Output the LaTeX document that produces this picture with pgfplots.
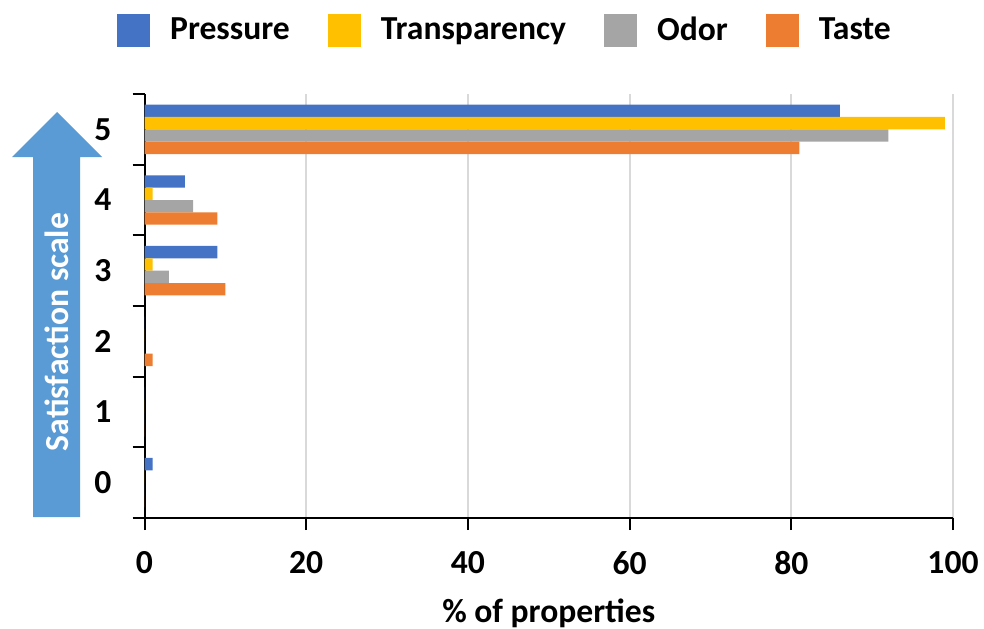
\documentclass[border=0pt]{standalone}
\usepackage{fontspec}
\setmainfont{Carlito}
\usepackage{pgfplots}
\pgfplotsset{compat=1.18}
\definecolor{cP}{HTML}{4472C4}
\definecolor{cT}{HTML}{FFC000}
\definecolor{cO}{HTML}{A5A5A5}
\definecolor{cS}{HTML}{ED7D31}
\definecolor{arrowblue}{HTML}{5B9BD5}
\definecolor{gridgray}{HTML}{D9D9D9}
\newcommand{\bigfont}{\bfseries\fontsize{16.8}{20}\selectfont}
\begin{document}
\begin{tikzpicture}[x=1pt,y=1pt]
\useasboundingbox (0,0) rectangle (492,314);
\fill[arrowblue] (16.5,55.5) -- (16.5,235.5) -- (6,235.5) -- (28.5,258) -- (51,235.5) -- (40,235.5) -- (40,55.5) -- cycle;
\node[rotate=90, white, font=\bigfont] at (28.25,148) {Satisfaction scale};
\begin{axis}[
  at={(72.25pt,55pt)}, anchor=south west,
  scale only axis, width=404.25pt, height=212pt,
  xmin=0, xmax=100, ymin=-0.5, ymax=5.5,
  xbar, bar width=0.175,
  axis x line=bottom, axis y line=left,
  axis line style={-, black, line width=1pt},
  xtick={0,20,40,60,80,100},
  ytick={-0.5,0.5,1.5,2.5,3.5,4.5,5.5},
  y tick label as interval,
  yticklabels={0,1,2,3,4,5},
  tick align=outside, major tick length=6pt,
  tick style={black, line width=1pt},
  xmajorgrids, grid style={line width=1pt, gridgray},
  ticklabel style={font=\bigfont},
  xticklabel style={yshift=-7pt},
  yticklabel style={xshift=-7pt},
  /pgf/number format/assume math mode=true,
  xlabel={\% of properties},
  xlabel style={font=\bigfont, at={(axis description cs:0.5,-0.225)}, anchor=center},
  every axis plot post/.append style={draw=none, legend image code/.code={\fill[##1] (0pt,-8.25pt) rectangle (16.5pt,8.25pt);}},
  legend style={draw=none, fill=none, legend columns=4, at={(0.447,1.15)}, anchor=center, font=\bigfont,
    /tikz/every odd column/.append style={column sep=8pt},
    /tikz/every even column/.append style={column sep=17pt}},
  clip=false,
]
\addplot[fill=cP, bar shift=0.2625] coordinates {(1,0) (0,1) (0,2) (9,3) (5,4) (86,5)};
\addplot[fill=cT, bar shift=0.0875] coordinates {(0,0) (0,1) (0,2) (1,3) (1,4) (99,5)};
\addplot[fill=cO, bar shift=-0.0875] coordinates {(0,0) (0,1) (0,2) (3,3) (6,4) (92,5)};
\addplot[fill=cS, bar shift=-0.2625] coordinates {(0,0) (0,1) (1,2) (10,3) (9,4) (81,5)};
\legend{Pressure, Transparency, Odor, Taste}
\end{axis}
\end{tikzpicture}
\end{document}
